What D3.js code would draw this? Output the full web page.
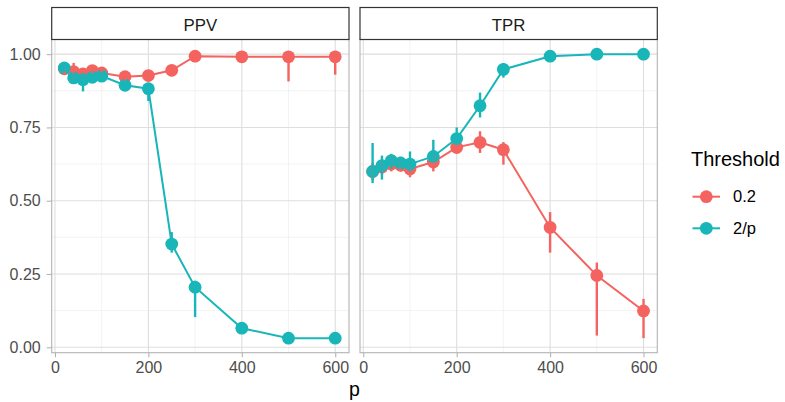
<!DOCTYPE html>
<html>
<head>
<meta charset="utf-8">
<script src="https://cdn.jsdelivr.net/npm/d3@7"></script>
<style>
  html, body { margin: 0; padding: 0; background: #fff; }
  svg { display: block; font-family: "Liberation Sans", Arial, Helvetica, sans-serif; }
</style>
</head>
<body>
<svg id="chart" width="785" height="402"></svg>
<script>
// Number of predictors p
const pValues = [20, 40, 60, 80, 100, 150, 200, 250, 300, 400, 500, 600];

// PPV, threshold 0.2
const ppv02    = [0.950, 0.940, 0.933, 0.944, 0.936, 0.923, 0.927, 0.945, 0.993, 0.991, 0.991, 0.991];
const ppv02Lo  = [0.930, 0.910, 0.910, 0.930, 0.920, 0.910, 0.910, 0.930, 0.985, 0.985, 0.907, 0.930];
const ppv02Hi  = [0.960, 0.970, 0.950, 0.955, 0.950, 0.935, 0.940, 0.960, 1.000, 1.000, 1.000, 1.000];
// PPV, threshold 2/p
const ppv2p    = [0.953, 0.919, 0.913, 0.921, 0.925, 0.894, 0.882, 0.352, 0.205, 0.065, 0.031, 0.031];
const ppv2pLo  = [0.940, 0.900, 0.873, 0.905, 0.910, 0.880, 0.840, 0.323, 0.103, 0.055, 0.025, 0.025];
const ppv2pHi  = [0.965, 0.935, 0.935, 0.935, 0.940, 0.905, 0.895, 0.393, 0.227, 0.075, 0.035, 0.035];
// TPR, threshold 0.2
const tpr02    = [0.600, 0.615, 0.625, 0.621, 0.608, 0.632, 0.682, 0.699, 0.674, 0.409, 0.245, 0.124];
const tpr02Lo  = [0.570, 0.590, 0.600, 0.600, 0.580, 0.600, 0.660, 0.663, 0.623, 0.323, 0.040, 0.031];
const tpr02Hi  = [0.630, 0.640, 0.650, 0.640, 0.630, 0.665, 0.700, 0.737, 0.700, 0.461, 0.289, 0.165];
// TPR, threshold 2/p
const tpr2p    = [0.600, 0.620, 0.637, 0.629, 0.625, 0.651, 0.712, 0.824, 0.948, 0.993, 1.000, 1.000];
const tpr2pLo  = [0.560, 0.572, 0.610, 0.610, 0.600, 0.630, 0.690, 0.784, 0.920, 0.985, 0.995, 0.995];
const tpr2pHi  = [0.697, 0.654, 0.660, 0.650, 0.668, 0.708, 0.750, 0.869, 0.970, 1.000, 1.000, 1.000];

const thresholds = ["0.2", "2/p"];
const colors = ["#F4635F", "#18B6B9"];
const panels = ["PPV", "TPR"];
const xTicks = [0, 200, 400, 600];
const xMinor = [100, 300, 500];
const yTicks = [0, 0.25, 0.5, 0.75, 1.0];
const yMinor = [0.125, 0.375, 0.625, 0.875];

function rows(vals, lo, hi) {
  return pValues.map((p, i) => ({ p, v: vals[i], lo: lo[i], hi: hi[i] }));
}
const panelData = {
  PPV: [rows(ppv02, ppv02Lo, ppv02Hi), rows(ppv2p, ppv2pLo, ppv2pHi)],
  TPR: [rows(tpr02, tpr02Lo, tpr02Hi), rows(tpr2p, tpr2pLo, tpr2pHi)]
};

const svg = d3.select("#chart");
const panelLefts = [51.7, 360];
const panelW = 297.3;
const stripTop = 7.5, stripBottom = 39.5;
const plotTop = 39.5, plotBottom = 352.7;

const y = d3.scaleLinear().domain([-0.0185, 1.050]).range([plotBottom, plotTop]);

panels.forEach((name, pi) => {
  const left = panelLefts[pi];
  const x = d3.scaleLinear().domain([-7, 629.5]).range([left, left + panelW]);
  const g = svg.append("g");

  // minor grid
  g.selectAll(".gxm").data(xMinor).join("line")
    .attr("x1", d => x(d)).attr("x2", d => x(d))
    .attr("y1", plotTop).attr("y2", plotBottom)
    .attr("stroke", "#ebebeb").attr("stroke-width", 0.6);
  g.selectAll(".gym").data(yMinor).join("line")
    .attr("x1", left).attr("x2", left + panelW)
    .attr("y1", d => y(d)).attr("y2", d => y(d))
    .attr("stroke", "#ebebeb").attr("stroke-width", 0.6);
  // major grid
  g.selectAll(".gx").data(xTicks).join("line")
    .attr("x1", d => x(d)).attr("x2", d => x(d))
    .attr("y1", plotTop).attr("y2", plotBottom)
    .attr("stroke", "#dedede").attr("stroke-width", 1.1);
  g.selectAll(".gy").data(yTicks).join("line")
    .attr("x1", left).attr("x2", left + panelW)
    .attr("y1", d => y(d)).attr("y2", d => y(d))
    .attr("stroke", "#dedede").attr("stroke-width", 1.1);

  const line = d3.line().x(d => x(d.p)).y(d => y(d.v));
  const series = panelData[name];

  series.forEach((s, si) => {
    g.append("path").datum(s)
      .attr("d", line).attr("fill", "none")
      .attr("stroke", colors[si]).attr("stroke-width", 2);
  });
  series.forEach((s, si) => {
    g.selectAll(null).data(s).join("circle")
      .attr("cx", d => x(d.p)).attr("cy", d => y(d.v)).attr("r", 6.4)
      .attr("fill", colors[si]);
  });
  series.forEach((s, si) => {
    g.selectAll(null).data(s).join("line")
      .attr("x1", d => x(d.p)).attr("x2", d => x(d.p))
      .attr("y1", d => y(d.lo)).attr("y2", d => y(d.hi))
      .attr("stroke", colors[si]).attr("stroke-width", 2.4);
  });

  // panel border
  g.append("rect").attr("x", left).attr("y", plotTop)
    .attr("width", panelW).attr("height", plotBottom - plotTop)
    .attr("fill", "none").attr("stroke", "#b3b3b3").attr("stroke-width", 1.1);

  // strip
  g.append("rect").attr("x", left).attr("y", stripTop)
    .attr("width", panelW).attr("height", stripBottom - stripTop)
    .attr("fill", "#fff").attr("stroke", "#333").attr("stroke-width", 1.2);
  g.append("text").attr("x", left + panelW / 2).attr("y", 30.5)
    .attr("text-anchor", "middle").attr("font-size", 16.8).attr("fill", "#1a1a1a")
    .text(name);

  // x axis
  const xAxis = d3.axisBottom(x).tickValues(xTicks).tickFormat(d3.format("d"))
    .tickSize(4.5).tickPadding(4);
  const ax = svg.append("g").attr("transform", `translate(0,${plotBottom})`).call(xAxis);
  ax.select(".domain").remove();
  ax.selectAll(".tick line").attr("stroke", "#b3b3b3").attr("stroke-width", 1.1);
  ax.selectAll(".tick text").attr("fill", "#4d4d4d").attr("font-size", 16)
    .attr("font-family", "Liberation Sans, Arial, sans-serif");

  if (pi === 0) {
    const yAxis = d3.axisLeft(y).tickValues(yTicks).tickFormat(d3.format(".2f"))
      .tickSize(5).tickPadding(6);
    const ay = svg.append("g").attr("transform", `translate(${left},0)`).call(yAxis);
    ay.select(".domain").remove();
    ay.selectAll(".tick line").attr("stroke", "#b3b3b3").attr("stroke-width", 1.1);
    ay.selectAll(".tick text").attr("fill", "#4d4d4d").attr("font-size", 16)
      .attr("font-family", "Liberation Sans, Arial, sans-serif");
  }
});

// x axis title
svg.append("text").attr("x", (panelLefts[0] + panelLefts[1] + panelW) / 2).attr("y", 396)
  .attr("text-anchor", "middle").attr("font-size", 19.5).attr("fill", "#000").text("p");

// legend
const lg = svg.append("g");
lg.append("text").attr("x", 691).attr("y", 166).attr("font-size", 20).attr("fill", "#000")
  .text("Threshold");
thresholds.forEach((t, i) => {
  const cy = 196.7 + i * 31.6;
  lg.append("line").attr("x1", 692.5).attr("x2", 720).attr("y1", cy).attr("y2", cy)
    .attr("stroke", colors[i]).attr("stroke-width", 2);
  lg.append("circle").attr("cx", 706.3).attr("cy", cy).attr("r", 6.4).attr("fill", colors[i]);
  lg.append("text").attr("x", 733).attr("y", cy + 5.6).attr("font-size", 16.5).attr("fill", "#000")
    .text(t);
});
</script>
</body>
</html>
